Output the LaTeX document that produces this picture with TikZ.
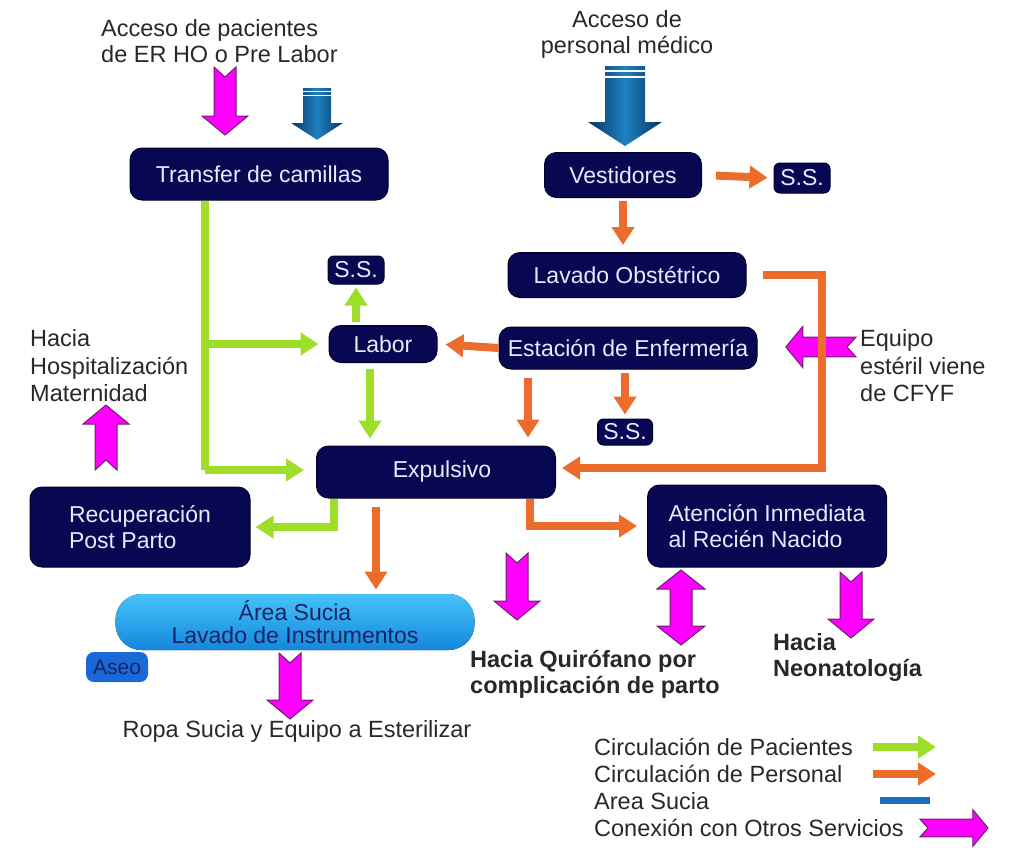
\documentclass[tikz,border=0pt]{standalone}
\usepackage{fontspec}
\setmainfont{Liberation Sans}
\usetikzlibrary{arrows.meta}

\definecolor{roomfill}{RGB}{8,8,82}
\definecolor{roomedge}{RGB}{0,0,40}
\definecolor{roomtext}{RGB}{232,232,255}
\definecolor{patientgreen}{RGB}{158,222,40}
\definecolor{stafforange}{RGB}{236,108,44}
\definecolor{magfill}{RGB}{255,0,255}
\definecolor{magedge}{RGB}{110,30,110}
\definecolor{steeldark}{RGB}{10,50,105}
\definecolor{steellight}{RGB}{30,130,190}
\definecolor{sucialight}{RGB}{70,195,250}
\definecolor{suciadark}{RGB}{20,135,220}
\definecolor{suciatext}{RGB}{25,35,100}
\definecolor{aseofill}{RGB}{25,105,215}
\definecolor{labeltext}{RGB}{40,40,40}
\definecolor{legendblue}{RGB}{25,110,195}

\newcommand\bigtext{\fontsize{23.5}{26}\selectfont}

\tikzset{
  room/.style={draw=roomedge,fill=roomfill,line width=1pt,rounded corners=12pt,
    text=roomtext,font=\fontsize{23}{26}\selectfont,align=center,inner sep=0pt},
  sanit/.style={room,rounded corners=6pt},
  lbl/.style={text=labeltext,font=\bigtext,inner sep=0pt},
  patient/.style={draw=patientgreen,line width=8pt,-{Triangle[length=18pt,width=22pt]}},
  staff/.style={draw=stafforange,line width=8pt,-{Triangle[length=18pt,width=22pt]}},
  pics/fat arrow/.style={code={
    \filldraw[fill=magfill,draw=magedge,line width=1pt]
      (-11,0) -- (0,10) -- (11,0) -- (11,#1-19) -- (23,#1-19) -- (0,#1)
      -- (-23,#1-19) -- (-11,#1-19) -- cycle;
  }},
  pics/double fat arrow/.style={code={
    \filldraw[fill=magfill,draw=magedge,line width=1pt]
      (0,0) -- (24,19) -- (11,19) -- (11,#1-19) -- (24,#1-19) -- (0,#1)
      -- (-24,#1-19) -- (-11,#1-19) -- (-11,19) -- (-24,19) -- cycle;
  }},
  pics/blue arrow/.style={code={
    \shade[left color=steeldark,right color=steeldark,middle color=steellight]
      (-20,0) -- (20,0) -- (20,#1-24) -- (37,#1-24) -- (0,#1)
      -- (-37,#1-24) -- (-20,#1-24) -- cycle;
    \draw[white,line width=1.5pt] (-20,5) -- (20,5) (-20,11) -- (20,11);
  }}
}

\begin{document}
\begin{tikzpicture}[x=1pt,y=-1pt]
\useasboundingbox (0,0) rectangle (1009,847);

\node[room,minimum width=258pt,minimum height=52pt] (transfer) at (259,174) {Transfer de camillas};
\node[room,minimum width=157pt,minimum height=45pt] (vest) at (623,175) {Vestidores};
\node[sanit,minimum width=56pt,minimum height=30pt] (ssvest) at (802,178) {S.S.};
\node[room,minimum width=238pt,minimum height=45pt] (lavado) at (627,275) {Lavado Obstétrico};
\node[room,minimum width=258pt,minimum height=42pt] (estacion) at (628,348) {Estación de Enfermería};
\node[room,minimum width=108pt,minimum height=37pt] (labor) at (383,344) {Labor};
\node[sanit,minimum width=56pt,minimum height=28pt] (sslabor) at (356,270) {S.S.};
\node[sanit,minimum width=55pt,minimum height=26pt] (ssest) at (625,432) {S.S.};
\node[room,minimum width=239pt,minimum height=52pt] (expulsivo) at (436,472) {\hspace{12pt}Expulsivo};
\node[room,minimum width=220pt,minimum height=80pt,align=left] (recup) at (140,527) {Recuperación\\Post Parto};
\node[room,minimum width=239pt,minimum height=82pt,align=left] (atencion) at (767,526) {Atención Inmediata\\al Recién Nacido};
\node[room,draw=none,top color=sucialight,bottom color=suciadark,rounded corners=26pt,
  minimum width=359pt,minimum height=56pt,text=suciatext,font=\fontsize{23}{23}\selectfont] (sucia) at (295,622)
  {Área Sucia\\Lavado de Instrumentos};
\node[sanit,draw=none,fill=aseofill,rounded corners=8pt,minimum width=62pt,minimum height=30pt,
  text=suciatext,font=\fontsize{21}{24}\selectfont] (aseo) at (117,667) {Aseo};

\node[lbl,anchor=west,align=left] (pacientes) at (101,41) {Acceso de pacientes\\de ER HO o Pre Labor};
\node[lbl,align=center] (personal) at (627,34) {Acceso de\\personal médico};
\node[lbl,anchor=west,align=left,font=\fontsize{23.5}{27.5}\selectfont] (hosp) at (30,366) {Hacia\\Hospitalización\\Maternidad};
\node[lbl,anchor=west,align=left,font=\fontsize{23.5}{27.5}\selectfont] (cfyf) at (860,366) {Equipo\\estéril viene\\de CFYF};
\node[lbl] (ropa) at (297,731) {Ropa Sucia y Equipo a Esterilizar};
\node[lbl,anchor=west,align=left,font=\bigtext\bfseries] (quirofano) at (470,674) {Hacia Quirófano por\\complicación de parto};
\node[lbl,anchor=west,align=left,font=\bigtext\bfseries] (neo) at (773,657) {Hacia\\Neonatología};

\pic at (225,67) {fat arrow=68};
\pic[scale=0.7] at (317,88) {blue arrow=74};
\pic at (625,66) {blue arrow=80};
\pic[yscale=-1] at (106,470) {fat arrow=65};
\pic[rotate=-90,scale=0.9] at (856,347) {fat arrow=78};
\pic at (517,553) {fat arrow=67};
\pic at (681,570) {double fat arrow=75};
\pic at (851,572) {fat arrow=66};
\pic at (290,653) {fat arrow=66};

\coordinate (trunk) at (205,470);
\draw[patient,-] (transfer.south -| trunk) -- (trunk);
\draw[patient,shorten >=12pt] (trunk) -- (expulsivo.west |- trunk);
\draw[patient,shorten >=10pt] (trunk |- labor) -- (labor.west);
\draw[patient,shorten <=3pt,shorten >=3pt] (sslabor.south |- labor.north) -- (sslabor.south);
\draw[patient,shorten <=6pt,shorten >=7pt] ([xshift=-13pt]labor.south) -- ([xshift=-13pt]labor.south |- expulsivo.north);
\draw[patient,shorten >=5pt] ([xshift=18pt]expulsivo.south west) |- (recup.east);

\draw[staff,shorten <=14pt,shorten >=6pt] (vest.east) -- (ssvest.west);
\draw[staff,shorten <=3pt,shorten >=7pt] (vest.south) -- (vest.south |- lavado.north);
\coordinate (bend) at (822,468);
\draw[staff,shorten <=16pt,shorten >=6pt] (lavado.east) -| (bend) -- (expulsivo.east |- bend);
\draw[staff,shorten >=8pt] (estacion.west) -- (labor.east);
\draw[staff,shorten <=8pt,shorten >=8pt] ([xshift=-100pt]estacion.south) -- ([xshift=-100pt]estacion.south |- expulsivo.north);
\draw[staff,shorten <=3pt,shorten >=4pt] (estacion.south -| ssest) -- (ssest.north);
\draw[staff,shorten >=10pt] ([xshift=-26pt]expulsivo.south east) |- (atencion.west);
\draw[staff,shorten <=8pt,shorten >=4pt] ([xshift=60pt]expulsivo.south west) -- ([xshift=60pt]expulsivo.south west |- sucia.north);

\node[lbl,anchor=west] (legpac) at (594,747) {Circulación de Pacientes};
\node[lbl,anchor=west] (legper) at (594,774) {Circulación de Personal};
\node[lbl,anchor=west] (legsuc) at (594,801) {Area Sucia};
\node[lbl,anchor=west] (legcon) at (594,828) {Conexión con Otros Servicios};
\coordinate (kpac) at (873,747);
\coordinate (kper) at (873,774);
\coordinate (ksuc) at (880,800);
\draw[patient] (kpac) -- ++(63,0);
\draw[staff] (kper) -- ++(63,0);
\draw[draw=legendblue,line width=7pt] (ksuc) -- ++(50,0);
\pic[rotate=90,scale=0.8] at (920,828) {fat arrow=85};
\end{tikzpicture}
\end{document}
